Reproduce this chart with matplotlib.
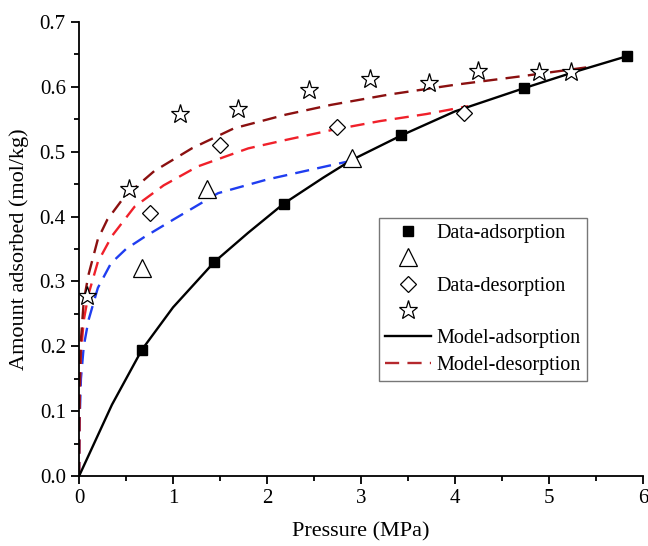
import matplotlib

matplotlib.use("Agg")
import matplotlib.pyplot as plt
from matplotlib.lines import Line2D
from matplotlib.ticker import FormatStrFormatter, MultipleLocator

plt.rcParams["font.family"] = ["Liberation Serif", "DejaVu Serif"]

# measured points
ads_p = [0.67, 1.44, 2.18, 3.43, 4.74, 5.83]
ads_q = [0.195, 0.330, 0.420, 0.525, 0.598, 0.647]
tri_p = [0.67, 1.36, 2.90]
tri_q = [0.320, 0.442, 0.490]
dia_p = [0.75, 1.50, 2.75, 4.10]
dia_q = [0.405, 0.510, 0.538, 0.560]
star_p = [0.08, 0.53, 1.07, 1.69, 2.45, 3.10, 3.72, 4.25, 4.89, 5.24]
star_q = [0.278, 0.443, 0.558, 0.565, 0.595, 0.612, 0.605, 0.624, 0.622, 0.623]

# model curves
mod_ads_p = [0.0, 0.35, 0.67, 1.0, 1.44, 1.8, 2.18, 2.6, 2.9, 3.43, 4.0, 4.74, 5.3, 5.83]
mod_ads_q = [0.0, 0.11, 0.195, 0.26, 0.33, 0.375, 0.42, 0.46, 0.487, 0.525, 0.562, 0.598, 0.624, 0.647]

blue_p = [0.0, 0.005, 0.02, 0.05, 0.1, 0.2, 0.34, 0.5, 0.69, 1.0, 1.48, 2.0, 2.68, 2.9]
blue_q = [0.0, 0.08, 0.15, 0.20, 0.24, 0.29, 0.328, 0.35, 0.368, 0.395, 0.436, 0.457, 0.479, 0.486]
red_p = [0.0, 0.005, 0.02, 0.05, 0.1, 0.2, 0.35, 0.59, 0.9, 1.26, 1.8, 2.2, 2.68, 3.2, 3.7, 4.14]
red_q = [0.0, 0.12, 0.19, 0.24, 0.28, 0.33, 0.37, 0.415, 0.448, 0.477, 0.505, 0.518, 0.533, 0.547, 0.558, 0.570]
brown_p = [0.0, 0.005, 0.02, 0.05, 0.1, 0.2, 0.3, 0.48, 0.8, 1.2, 1.65, 2.2, 2.68, 3.3, 4.0, 4.7, 5.41]
brown_q = [0.0, 0.14, 0.21, 0.27, 0.31, 0.365, 0.395, 0.43, 0.47, 0.505, 0.536, 0.557, 0.572, 0.588, 0.603, 0.616, 0.630]

legend_labels = ["Data-adsorption", " ", "Data-desorption", " ", "Model-adsorption", "Model-desorption"]

fig = plt.figure(figsize=(6.48, 5.46), dpi=100)
ax = fig.add_axes([0.122, 0.128, 0.870, 0.832])

dash = (0, (6, 3.5))
ax.plot(blue_p, blue_q, color="#1f3df0", lw=1.7, linestyle=dash)
ax.plot(red_p, red_q, color="#f0202a", lw=1.7, linestyle=dash)
ax.plot(brown_p, brown_q, color="#8b1010", lw=1.7, linestyle=dash)
ax.plot(mod_ads_p, mod_ads_q, color="black", lw=1.7)

ax.plot(ads_p, ads_q, "s", color="black", ms=7, zorder=5)
ax.plot(tri_p, tri_q, "^", mfc="white", mec="black", ms=13, mew=0.9, zorder=5)
ax.plot(dia_p, dia_q, "D", mfc="white", mec="black", ms=8, mew=0.9, zorder=5)
ax.plot(star_p, star_q, "*", mfc="white", mec="black", ms=14, mew=0.9, zorder=5)

ax.set_xlim(0, 6)
ax.set_ylim(0, 0.7)
ax.xaxis.set_major_locator(MultipleLocator(1))
ax.xaxis.set_minor_locator(MultipleLocator(0.5))
ax.yaxis.set_major_locator(MultipleLocator(0.1))
ax.yaxis.set_minor_locator(MultipleLocator(0.05))
ax.yaxis.set_major_formatter(FormatStrFormatter("%.1f"))
for s in ("top", "right"):
    ax.spines[s].set_visible(False)
for s in ("left", "bottom"):
    ax.spines[s].set_linewidth(1.3)
ax.tick_params(which="major", length=6, width=1.3, labelsize=15, direction="out")
ax.tick_params(which="minor", length=3.5, width=1.3, direction="out")
ax.set_xlabel("Pressure (MPa)", fontsize=16, labelpad=10)
ax.set_ylabel("Amount adsorbed (mol/kg)", fontsize=16, labelpad=8)

handles = [
    Line2D([], [], marker="s", color="black", ls="none", ms=7),
    Line2D([], [], marker="^", mfc="white", mec="black", ls="none", ms=13, mew=0.9),
    Line2D([], [], marker="D", mfc="white", mec="black", ls="none", ms=8, mew=0.9),
    Line2D([], [], marker="*", mfc="white", mec="black", ls="none", ms=14, mew=0.9),
    Line2D([], [], color="black", lw=1.7),
    Line2D([], [], color="#b5282d", lw=1.7, linestyle=dash),
]
leg = fig.legend(handles, legend_labels, loc="upper left", bbox_to_anchor=(0.585, 0.601),
                 fontsize=14.5, frameon=True, fancybox=False, edgecolor="#555555",
                 handlelength=2.3, handletextpad=0.25, labelspacing=0.36,
                 borderpad=0.3, borderaxespad=0)
leg.get_frame().set_linewidth(1.0)

fig.savefig("out.png", dpi=100)
